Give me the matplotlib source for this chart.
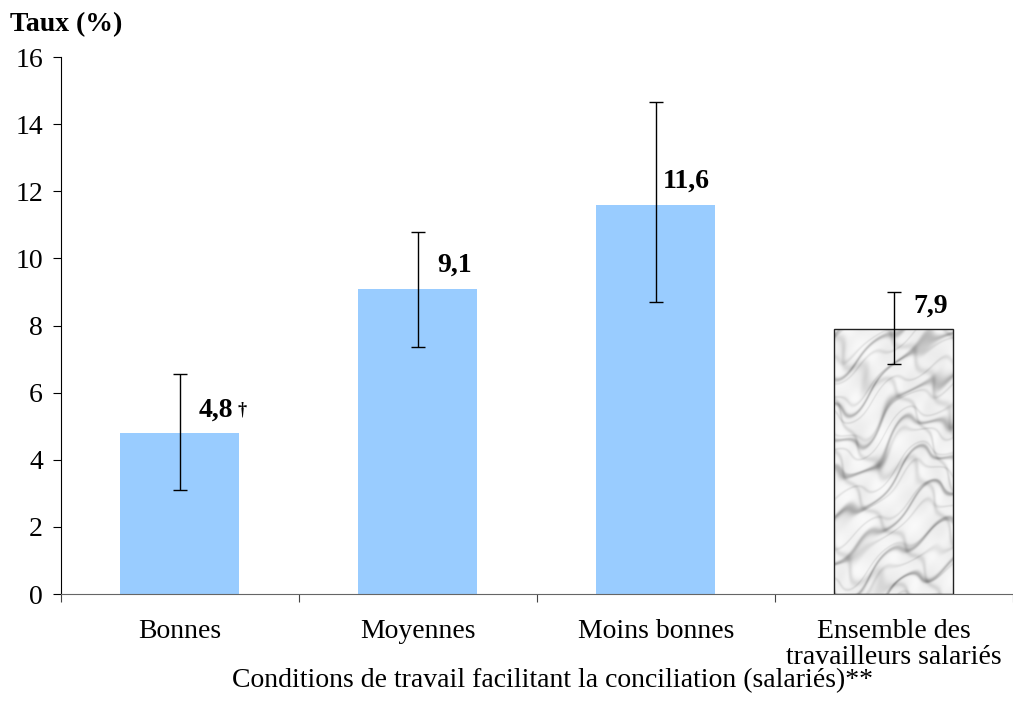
import numpy as np
import matplotlib.pyplot as plt

# ============================
#  Data
# ============================
categories = ["Bonnes", "Moyennes", "Moins bonnes", "Ensemble des\ntravailleurs salariés"]
values = [4.8, 9.1, 11.6, 7.9]
ci_low = [3.1, 7.35, 8.7, 6.85]
ci_high = [6.55, 10.8, 14.65, 9.0]
value_labels = ["4,8", "9,1", "11,6", "7,9"]
y_ticks = [0, 2, 4, 6, 8, 10, 12, 14, 16]

plt.rcParams["font.family"] = ["Liberation Serif", "DejaVu Serif"]

fig = plt.figure(figsize=(10.13, 7.09), dpi=100)
ax = fig.add_axes([0.0602, 0.1622, 0.9398, 0.7574])

x = np.arange(len(categories))
vals = np.array(values)
err = np.array([vals - np.array(ci_low), np.array(ci_high) - vals])

colors = ["#99ccff", "#99ccff", "#99ccff", "#eeeeee"]
bars = ax.bar(x, vals, width=0.5, color=colors, edgecolor="none", zorder=2)

# marble-like fill for the total bar (deterministic pattern, clipped to the bar)
gx, gy = np.meshgrid(np.linspace(0, 120, 240), np.linspace(0, 265, 530))
warp = 0.9 * np.sin(gx / 17.0) + 0.7 * np.sin(gy / 29.0 + gx / 13.0) + 0.4 * np.sin(gx / 6.0 - gy / 9.0)
v1 = np.sin((gy - 0.6 * gx) / 12.0 + warp)
v2 = np.sin((gy - 0.45 * gx) / 6.5 + 1.6 * warp + 0.8)
v3 = np.sin((gy + 1.2 * gx) / 21.0 + 0.8 * warp)
mottle = np.sin(gx / 7.0 + warp) * np.sin(gy / 9.0 - 0.6 * warp)
marble = (0.95 - 0.22 * np.exp(-18 * v1 ** 2) - 0.08 * np.exp(-14 * v2 ** 2)
          - 0.10 * np.exp(-16 * v3 ** 2) - 0.025 * mottle)
tot = bars[-1]
im = ax.imshow(marble, cmap="gray", vmin=0, vmax=1, origin="lower", aspect="auto",
               extent=(tot.get_x(), tot.get_x() + tot.get_width(), 0, vals[-1]),
               zorder=2.5, interpolation="bilinear")
im.set_clip_path(tot)
ax.bar(x[-1], vals[-1], width=0.5, color="none", edgecolor="#222222",
       linewidth=1.0, zorder=3)

ax.errorbar(x, vals, yerr=err, fmt="none", ecolor="black", elinewidth=1.0,
            capsize=5, capthick=1.0, zorder=4)

for i, (v, lab) in enumerate(zip(values, value_labels)):
    ax.annotate(lab, (x[i] + 0.225, v), xytext=(0, 12), textcoords="offset points",
                ha="right", va="baseline", fontsize=20, fontweight="bold")
# dagger after 4,8
ax.annotate("†", (x[0] + 0.225, values[0]), xytext=(3, 13),
            textcoords="offset points", ha="left", va="baseline",
            fontsize=13, fontweight="bold")

ax.set_xlim(-0.5, len(categories) - 0.5)
ax.set_ylim(0, 16)
ax.set_yticks(y_ticks)
ax.set_yticklabels([str(t) for t in y_ticks], fontsize=20)
ax.set_xticks(x)
ax.set_xticklabels(categories, fontsize=20, linespacing=1.05)
ax.tick_params(axis="x", length=0, pad=18)
ax.set_xticks(np.arange(len(categories) + 1) - 0.5, minor=True)
ax.tick_params(axis="x", which="minor", length=6, width=0.8, color="#444444")
ax.tick_params(axis="y", length=6, width=0.8, pad=7)

for s in ["top", "right"]:
    ax.spines[s].set_visible(False)
ax.spines["left"].set_linewidth(0.8)
ax.spines["bottom"].set_linewidth(0.8)
ax.spines["bottom"].set_color("#666666")

fig.text(10 / 1013, 1 - 25 / 709, "Taux (%)", fontsize=20, fontweight="bold",
         ha="left", va="center")
fig.text(552 / 1013, 1 - 681 / 709,
         "Conditions de travail facilitant la conciliation (salariés)**",
         fontsize=20, ha="center", va="center")

fig.savefig("out.png", dpi=100)
